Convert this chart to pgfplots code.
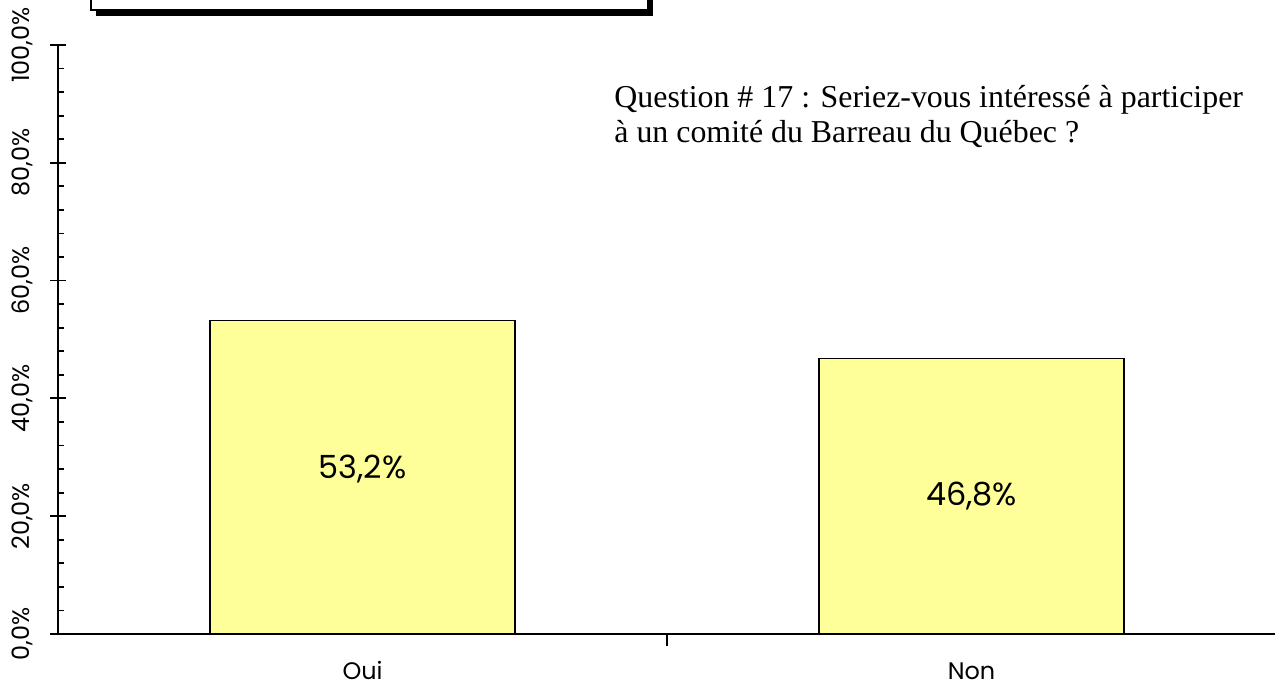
\documentclass[border=0pt]{standalone}
\usepackage{fontspec}
\setmainfont{Poppins}
\newfontfamily\titlefont{Liberation Serif}
\usepackage{pgfplots}
\pgfplotsset{compat=1.18}
\definecolor{barfill}{HTML}{FFFF99}
\begin{document}
\begin{tikzpicture}
\useasboundingbox (0bp,0bp) rectangle (637.5bp,343.5bp);
% framed box with shadow (cut by the top edge)
\fill[black] (48bp,335.65bp) rectangle (326.5bp,380bp);
\draw[line width=0.75bp, fill=white] (45.5bp,338.5bp) rectangle (324bp,380bp);
\begin{axis}[
  at={(29bp,26.5bp)}, anchor=south west,
  scale only axis, width=609bp, height=294.5bp,
  xmin=-0.5, xmax=1.5, ymin=0, ymax=100,
  axis x line=bottom, axis y line=left,
  axis line style={-, line width=0.9bp},
  xtick={0,1}, xticklabels={Oui,Non},
  major x tick style=transparent,
  xticklabel style={font=\fontsize{12}{12}\selectfont, anchor=base, yshift=-14.5bp},
  ytick={0,20,40,60,80,100},
  yticklabels={{0,0\%},{20,0\%},{40,0\%},{60,0\%},{80,0\%},{100,0\%}},
  yticklabel style={font=\fontsize{12}{12}\selectfont, rotate=90, anchor=south, yshift=5bp},
  minor y tick num=4,
  tick align=center,
  major tick length=8bp, minor tick length=3bp,
  minor tick style={xshift=1.5bp},
  tick style={line width=0.9bp, black},
  clip=false,
  ybar, bar width=0.5,
]
\addplot[fill=barfill, draw=black, line width=0.8bp] coordinates {(0,53.2) (1,46.8)};
\draw[line width=0.9bp] (axis cs:0.5,0) -- ([yshift=-6bp]axis cs:0.5,0);
\node[font=\fontsize{16}{16}\selectfont] at (axis cs:0,28.0) {53,2\%};
\node[font=\fontsize{16}{16}\selectfont] at (axis cs:1,23.4) {46,8\%};
\end{axis}
\node[anchor=base west, inner sep=0pt, font=\titlefont\fontsize{16}{16}\selectfont] at (307bp,289.5bp) {Question \# 17 : Seriez-vous intéressé à participer};
\node[anchor=base west, inner sep=0pt, font=\titlefont\fontsize{16}{16}\selectfont] at (307bp,272bp) {à un comité du Barreau du Québec ?};
\end{tikzpicture}
\end{document}
